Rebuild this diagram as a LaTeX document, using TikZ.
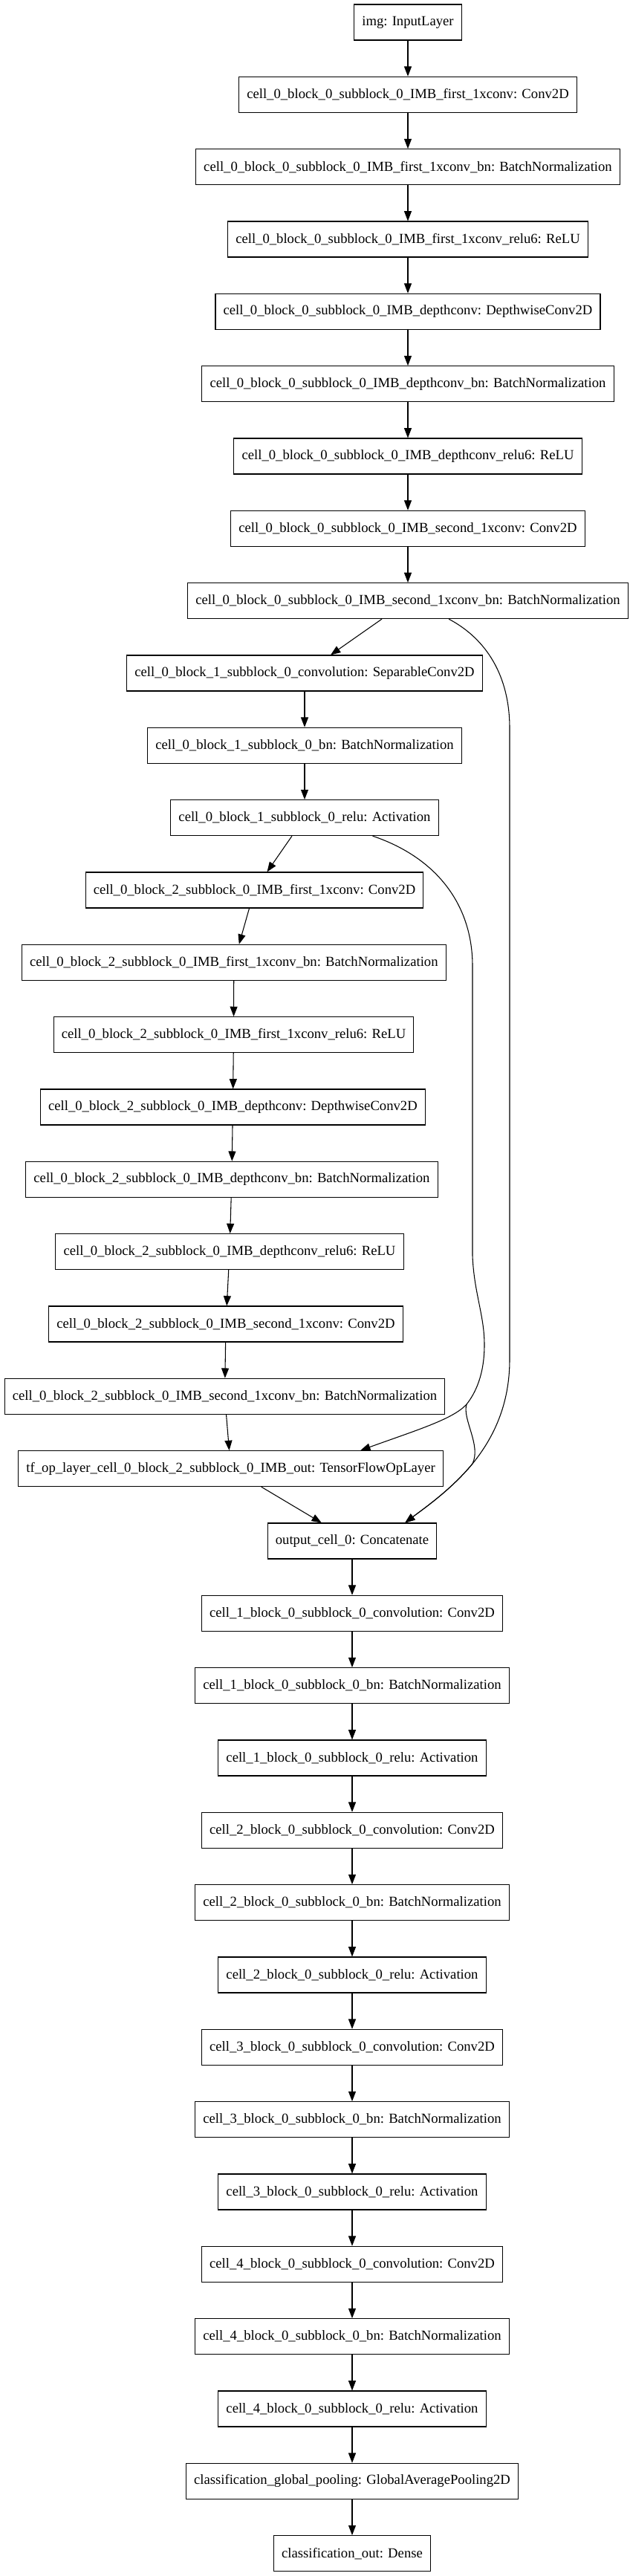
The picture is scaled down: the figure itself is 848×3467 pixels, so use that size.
\documentclass[tikz,border=0pt]{standalone}
\usepackage{fontspec}
\setmainfont{Liberation Serif}
\usetikzlibrary{arrows.meta}

\begin{document}
\begin{tikzpicture}[x=0.75pt, y=-0.75pt, >={Triangle[length=10pt, width=7.5pt]}, line width=0.8pt,
	layer/.style={draw, rectangle, minimum height=36pt, inner xsep=8pt, font=\fontsize{14pt}{16pt}\selectfont}]
	\useasboundingbox (0,0) rectangle (848,3467);
	
	% Input and block 0
	\node[layer] (inp) at (549,30) {img: InputLayer};
	\node[layer] (b0conv1) at (549,127.3) {cell\_0\_block\_0\_subblock\_0\_IMB\_first\_1xconv: Conv2D};
	\node[layer] (b0bn1) at (549,224.7) {cell\_0\_block\_0\_subblock\_0\_IMB\_first\_1xconv\_bn: BatchNormalization};
	\node[layer] (b0relu1) at (549,322) {cell\_0\_block\_0\_subblock\_0\_IMB\_first\_1xconv\_relu6: ReLU};
	\node[layer] (b0dw) at (549,419.3) {cell\_0\_block\_0\_subblock\_0\_IMB\_depthconv: DepthwiseConv2D};
	\node[layer] (b0dwbn) at (549,516.7) {cell\_0\_block\_0\_subblock\_0\_IMB\_depthconv\_bn: BatchNormalization};
	\node[layer] (b0dwrelu) at (549,614) {cell\_0\_block\_0\_subblock\_0\_IMB\_depthconv\_relu6: ReLU};
	\node[layer] (b0conv2) at (549,711.3) {cell\_0\_block\_0\_subblock\_0\_IMB\_second\_1xconv: Conv2D};
	\node[layer] (b0bn2) at (549,808.6) {cell\_0\_block\_0\_subblock\_0\_IMB\_second\_1xconv\_bn: BatchNormalization};
	
	% Block 1
	\node[layer] (b1conv) at (410,906) {cell\_0\_block\_1\_subblock\_0\_convolution: SeparableConv2D};
	\node[layer] (b1bn) at (410,1003.3) {cell\_0\_block\_1\_subblock\_0\_bn: BatchNormalization};
	\node[layer] (b1relu) at (410,1100.6) {cell\_0\_block\_1\_subblock\_0\_relu: Activation};
	
	% Block 2
	\node[layer] (b2conv1) at (342.5,1198) {cell\_0\_block\_2\_subblock\_0\_IMB\_first\_1xconv: Conv2D};
	\node[layer] (b2bn1) at (314.8,1295.3) {cell\_0\_block\_2\_subblock\_0\_IMB\_first\_1xconv\_bn: BatchNormalization};
	\node[layer] (b2relu1) at (314.5,1392.6) {cell\_0\_block\_2\_subblock\_0\_IMB\_first\_1xconv\_relu6: ReLU};
	\node[layer] (b2dw) at (313.4,1490) {cell\_0\_block\_2\_subblock\_0\_IMB\_depthconv: DepthwiseConv2D};
	\node[layer] (b2dwbn) at (311.9,1587.3) {cell\_0\_block\_2\_subblock\_0\_IMB\_depthconv\_bn: BatchNormalization};
	\node[layer] (b2dwrelu) at (309,1684.6) {cell\_0\_block\_2\_subblock\_0\_IMB\_depthconv\_relu6: ReLU};
	\node[layer] (b2conv2) at (304,1782) {cell\_0\_block\_2\_subblock\_0\_IMB\_second\_1xconv: Conv2D};
	\node[layer] (b2bn2) at (302.5,1879.3) {cell\_0\_block\_2\_subblock\_0\_IMB\_second\_1xconv\_bn: BatchNormalization};
	\node[layer] (b2out) at (310.6,1976.6) {tf\_op\_layer\_cell\_0\_block\_2\_subblock\_0\_IMB\_out: TensorFlowOpLayer};
	
	% Cell output
	\node[layer] (cat) at (474,2074) {output\_cell\_0: Concatenate};
	
	% Cells 1 to 4
	\foreach \c in {1,...,4}{
		\pgfmathsetmacro{\yc}{2171.3+292*(\c-1)}
		\node[layer] (conv\c) at (474,\yc) {cell\_\c\_block\_0\_subblock\_0\_convolution: Conv2D};
		\node[layer] (bn\c) at (474,\yc+97.33) {cell\_\c\_block\_0\_subblock\_0\_bn: BatchNormalization};
		\node[layer] (relu\c) at (474,\yc+194.67) {cell\_\c\_block\_0\_subblock\_0\_relu: Activation};
	}
	
	% Classification head
	\node[layer] (pool) at (474,3339.3) {classification\_global\_pooling: GlobalAveragePooling2D};
	\node[layer] (dense) at (474,3436.6) {classification\_out: Dense};
	
	% Straight edges
	\draw[->] (inp) -- (b0conv1);
	\draw[->] (b0conv1) -- (b0bn1);
	\draw[->] (b0bn1) -- (b0relu1);
	\draw[->] (b0relu1) -- (b0dw);
	\draw[->] (b0dw) -- (b0dwbn);
	\draw[->] (b0dwbn) -- (b0dwrelu);
	\draw[->] (b0dwrelu) -- (b0conv2);
	\draw[->] (b0conv2) -- (b0bn2);
	\draw[->] (b0bn2) -- (b1conv);
	\draw[->] (b1conv) -- (b1bn);
	\draw[->] (b1bn) -- (b1relu);
	\draw[->] (b1relu) -- (b2conv1);
	\draw[->] (b2conv1) -- (b2bn1);
	\draw[->] (b2bn1) -- (b2relu1);
	\draw[->] (b2relu1) -- (b2dw);
	\draw[->] (b2dw) -- (b2dwbn);
	\draw[->] (b2dwbn) -- (b2dwrelu);
	\draw[->] (b2dwrelu) -- (b2conv2);
	\draw[->] (b2conv2) -- (b2bn2);
	\draw[->] (b2bn2) -- (b2out);
	\draw[->] (b2out) -- (cat);
	\draw[->] (cat) -- (conv1);
	\foreach \c in {1,...,4}{
		\draw[->] (conv\c) -- (bn\c);
		\draw[->] (bn\c) -- (relu\c);
	}
	\foreach \c/\n in {1/2,2/3,3/4}
		\draw[->] (relu\c) -- (conv\n);
	\draw[->] (relu4) -- (pool);
	\draw[->] (pool) -- (dense);
	
	% Skip connections
	\coordinate (split) at (628,1890);
	\coordinate (merge) at (636,1970);
	\draw[->] (b1relu.-15) .. controls (590,1155) and (636,1220) .. (636,1300) -- (636,1690)
		.. controls (638,1740) and (652,1770) .. (652,1810) .. controls (652,1850) and (640,1875) .. (split)
		.. controls (610,1910) and (560,1925) .. (b2out.8);
	\draw[->] (split) .. controls (622,1910) and (648,1945) .. (merge)
		.. controls (607.3,2004.8) and (571.5,2029.5) .. (cat.19);
	\draw[->] (b0bn2.-24) .. controls (655,860) and (686,910) .. (686,980) -- (686,1830)
		.. controls (686,1890) and (664.5,1935) .. (merge)
		.. controls (607.3,2004.8) and (571.5,2029.5) .. (cat.19);
\end{tikzpicture}
\end{document}
